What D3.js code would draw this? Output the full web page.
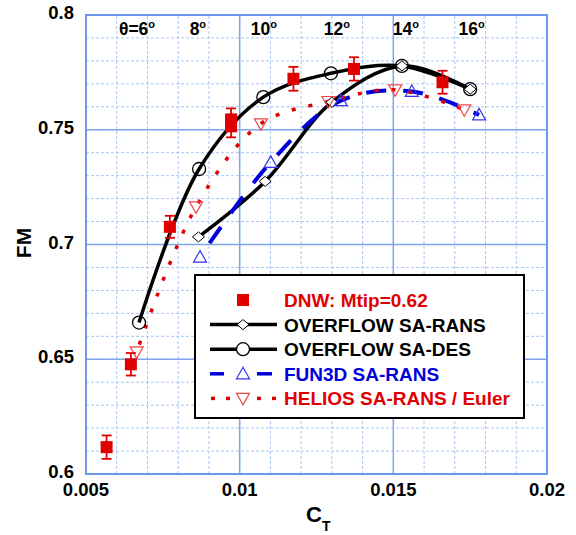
<!DOCTYPE html>
<html><head><meta charset="utf-8">
<script src="https://cdn.jsdelivr.net/npm/d3@7"></script>
<style>
body{margin:0;background:#fff}
svg{display:block}
text{font-family:"Liberation Sans",Arial,Helvetica,sans-serif;font-weight:bold}
</style>
</head><body>
<svg id="chart" width="576" height="535"></svg>
<script>
// ---------- data ----------
const xTicks = [0.005, 0.01, 0.015, 0.02];
const xTickLabels = ["0.005", "0.01", "0.015", "0.02"];
const yTicks = [0.6, 0.65, 0.7, 0.75, 0.8];
const yTickLabels = ["0.6", "0.65", "0.7", "0.75", "0.8"];

const thetaLabels = ["θ=6", "8", "10", "12", "14", "16"];
const thetaCT = [0.00666, 0.00864, 0.01079, 0.01316, 0.01541, 0.01755];
const thetaFM = 0.7913;

const dnwCT  = [0.00567, 0.00646, 0.00773, 0.00972, 0.00972, 0.01175, 0.01372, 0.01660];
const dnwFM  = [0.6117, 0.6478, 0.7077, 0.7545, 0.7515, 0.7722, 0.7765, 0.7707];
const dnwErr = [0.0051, 0.0049, 0.0048, 0.0048, 0.0048, 0.0052, 0.0051, 0.0050];

const ransCT = [0.00866, 0.01083, 0.01300, 0.01528, 0.01750];
const ransFM = [0.7033, 0.7275, 0.7620, 0.7778, 0.7677];

const desCT = [0.006725, 0.00868, 0.01077, 0.01297, 0.01528, 0.01750];
const desFM = [0.6660, 0.7329, 0.7642, 0.7746, 0.7778, 0.7677];

const fun3dCT = [0.00871, 0.01101, 0.01329, 0.01560, 0.01779];
const fun3dFM = [0.6945, 0.7358, 0.7627, 0.7667, 0.7565];

const heliosCT = [0.00665, 0.00858, 0.01069, 0.01289, 0.01506, 0.01731];
const heliosFM = [0.6532, 0.7164, 0.7526, 0.7623, 0.7674, 0.7587];

const legendLabels = ["DNW: Mtip=0.62", "OVERFLOW SA-RANS", "OVERFLOW SA-DES", "FUN3D SA-RANS", "HELIOS SA-RANS / Euler"];

// ---------- setup ----------
const RED = "#e00000", RED_T = "#f04545", BLUE = "#0000dd", BLUE_T = "#3535f0";
const svg = d3.select("#chart");
const x = d3.scaleLinear().domain([0.005, 0.02]).range([86, 547]);
const y = d3.scaleLinear().domain([0.6, 0.8]).range([474, 15]);
const zip = (a, b) => a.map((v, i) => [v, b[i]]);

// grid
const minorX = d3.range(0, 16).map(i => +(0.005 + i * 0.001).toFixed(4));
const minorY = d3.range(0, 21).map(i => +(0.6 + i * 0.01).toFixed(3));
const g = svg.append("g");
g.selectAll(".mx").data(minorX).enter().append("line")
  .attr("x1", d => x(d)).attr("x2", d => x(d)).attr("y1", y(0.6)).attr("y2", y(0.8))
  .attr("stroke", "#a9c6f5").attr("stroke-width", 1).attr("stroke-dasharray", "3,2");
g.selectAll(".my").data(minorY).enter().append("line")
  .attr("y1", d => y(d)).attr("y2", d => y(d)).attr("x1", x(0.005)).attr("x2", x(0.02))
  .attr("stroke", "#a9c6f5").attr("stroke-width", 1).attr("stroke-dasharray", "3,2");
g.selectAll(".Mx").data(xTicks).enter().append("line")
  .attr("x1", d => x(d)).attr("x2", d => x(d)).attr("y1", y(0.6)).attr("y2", y(0.8))
  .attr("stroke", "#7ea7ee").attr("stroke-width", 1.5);
g.selectAll(".My").data(yTicks).enter().append("line")
  .attr("y1", d => y(d)).attr("y2", d => y(d)).attr("x1", x(0.005)).attr("x2", x(0.02))
  .attr("stroke", "#7ea7ee").attr("stroke-width", 1.5);
svg.append("rect").attr("x", x(0.005)).attr("y", y(0.8))
  .attr("width", x(0.02) - x(0.005)).attr("height", y(0.6) - y(0.8))
  .attr("fill", "none").attr("stroke", "#6a98ec").attr("stroke-width", 2);

// axis tick labels
svg.selectAll(".xl").data(xTicks).enter().append("text")
  .attr("x", d => x(d)).attr("y", y(0.6) + 22).attr("text-anchor", "middle")
  .attr("font-size", 18.5).text((d, i) => xTickLabels[i]);
svg.selectAll(".yl").data(yTicks).enter().append("text")
  .attr("x", 74).attr("y", d => y(d) + 4).attr("text-anchor", "end")
  .attr("font-size", 18.5).text((d, i) => yTickLabels[i]);

// axis titles
svg.append("text").attr("transform", "translate(31,243) rotate(-90)")
  .attr("text-anchor", "middle").attr("font-size", 21).text("FM");
const ct = svg.append("text").attr("x", 306).attr("y", 522).attr("font-size", 22);
ct.append("tspan").text("C");
ct.append("tspan").attr("font-size", 14).attr("dy", 9).text("T");

// curves
const line = d3.line().x(d => x(d[0])).y(d => y(d[1])).curve(d3.curveCatmullRom.alpha(0.5));
svg.append("path").attr("d", line(zip(ransCT, ransFM)))
  .attr("fill", "none").attr("stroke", "#000").attr("stroke-width", 3.5);
svg.append("path").attr("d", line(zip(desCT, desFM)))
  .attr("fill", "none").attr("stroke", "#000").attr("stroke-width", 3.5);
svg.append("path").attr("d", line(zip(fun3dCT, fun3dFM)))
  .attr("fill", "none").attr("stroke", BLUE).attr("stroke-width", 4)
  .attr("stroke-dasharray", "20,17").attr("stroke-dashoffset", 20);
svg.append("path").attr("d", line(zip(heliosCT, heliosFM)))
  .attr("fill", "none").attr("stroke", RED).attr("stroke-width", 3.5)
  .attr("stroke-dasharray", "4,13").attr("stroke-dashoffset", -8);

// marker helpers
const diamond = (cx, cy) => `M${cx},${cy-5}L${cx+6},${cy}L${cx},${cy+5}L${cx-6},${cy}Z`;
const triUp = (cx, cy) => `M${cx},${cy-6.5}L${cx+6.5},${cy+5}L${cx-6.5},${cy+5}Z`;
const triDown = (cx, cy) => `M${cx},${cy+6.5}L${cx+6.5},${cy-5}L${cx-6.5},${cy-5}Z`;

svg.selectAll(".dia").data(zip(ransCT, ransFM)).enter().append("path")
  .attr("d", d => diamond(x(d[0]), y(d[1]))).attr("fill", "#fff").attr("stroke", "#000").attr("stroke-width", 1);
svg.selectAll(".cir").data(zip(desCT, desFM)).enter().append("circle")
  .attr("cx", d => x(d[0])).attr("cy", d => y(d[1])).attr("r", 6.5)
  .attr("fill", "none").attr("stroke", "#000").attr("stroke-width", 1.3);
svg.selectAll(".tu").data(zip(fun3dCT, fun3dFM)).enter().append("path")
  .attr("d", d => triUp(x(d[0]), y(d[1]))).attr("fill", "none").attr("stroke", BLUE_T).attr("stroke-width", 1.2);
svg.selectAll(".td").data(zip(heliosCT, heliosFM)).enter().append("path")
  .attr("d", d => triDown(x(d[0]), y(d[1]))).attr("fill", "none").attr("stroke", RED_T).attr("stroke-width", 1.2);

// DNW with error bars
const dnw = dnwCT.map((c, i) => ({c, f: dnwFM[i], e: dnwErr[i]}));
const eg = svg.append("g").attr("stroke", RED).attr("stroke-width", 1.8);
dnw.forEach(d => {
  const cx = x(d.c), y0 = y(d.f - d.e), y1 = y(d.f + d.e);
  eg.append("line").attr("x1", cx).attr("x2", cx).attr("y1", y0).attr("y2", y1);
  eg.append("line").attr("x1", cx - 5).attr("x2", cx + 5).attr("y1", y0).attr("y2", y0);
  eg.append("line").attr("x1", cx - 5).attr("x2", cx + 5).attr("y1", y1).attr("y2", y1);
});
svg.selectAll(".sq").data(dnw).enter().append("rect")
  .attr("x", d => x(d.c) - 6).attr("y", d => y(d.f) - 6).attr("width", 12).attr("height", 12)
  .attr("fill", RED);

// theta labels
thetaLabels.forEach((t, i) => {
  const tx = svg.append("text").attr("x", x(thetaCT[i])).attr("y", y(thetaFM))
    .attr("text-anchor", "middle").attr("font-size", 17.5);
  tx.append("tspan").text(t);
  tx.append("tspan").attr("font-size", 11).attr("dy", -7).text("o");
});

// legend
const L = svg.append("g");
L.append("rect").attr("x", 195).attr("y", 275).attr("width", 329).attr("height", 143)
  .attr("fill", "#fff").attr("stroke", "#000").attr("stroke-width", 2);
const rowY = i => 300 + i * 24.6;
const mx = 243;
// row 0 DNW
L.append("rect").attr("x", mx - 6).attr("y", rowY(0) - 6).attr("width", 12).attr("height", 12).attr("fill", RED);
// row 1 RANS
L.append("line").attr("x1", 210).attr("x2", 277).attr("y1", rowY(1)).attr("y2", rowY(1)).attr("stroke", "#000").attr("stroke-width", 3.5);
L.append("path").attr("d", diamond(mx, rowY(1))).attr("fill", "#fff").attr("stroke", "#000").attr("stroke-width", 1);
// row 2 DES
L.append("line").attr("x1", 210).attr("x2", 277).attr("y1", rowY(2)).attr("y2", rowY(2)).attr("stroke", "#000").attr("stroke-width", 3.5);
L.append("circle").attr("cx", mx).attr("cy", rowY(2)).attr("r", 6.5).attr("fill", "#fff").attr("stroke", "#000").attr("stroke-width", 1.3);
// row 3 FUN3D
[[210, 224], [257, 272]].forEach(s => L.append("line").attr("x1", s[0]).attr("x2", s[1])
  .attr("y1", rowY(3)).attr("y2", rowY(3)).attr("stroke", BLUE).attr("stroke-width", 3.5));
L.append("path").attr("d", triUp(mx, rowY(3))).attr("fill", "#fff").attr("stroke", BLUE_T).attr("stroke-width", 1.2);
// row 4 HELIOS
[211, 226, 257, 272].forEach(s => L.append("line").attr("x1", s).attr("x2", s + 4)
  .attr("y1", rowY(4)).attr("y2", rowY(4)).attr("stroke", RED).attr("stroke-width", 3.5));
L.append("path").attr("d", triDown(mx, rowY(4))).attr("fill", "#fff").attr("stroke", RED_T).attr("stroke-width", 1.2);

const legColors = [RED, "#000", "#000", BLUE, RED];
legendLabels.forEach((t, i) => {
  L.append("text").attr("x", 284).attr("y", rowY(i) + 7).attr("font-size", 19)
    .attr("fill", legColors[i]).text(t);
});
</script>
</body></html>
